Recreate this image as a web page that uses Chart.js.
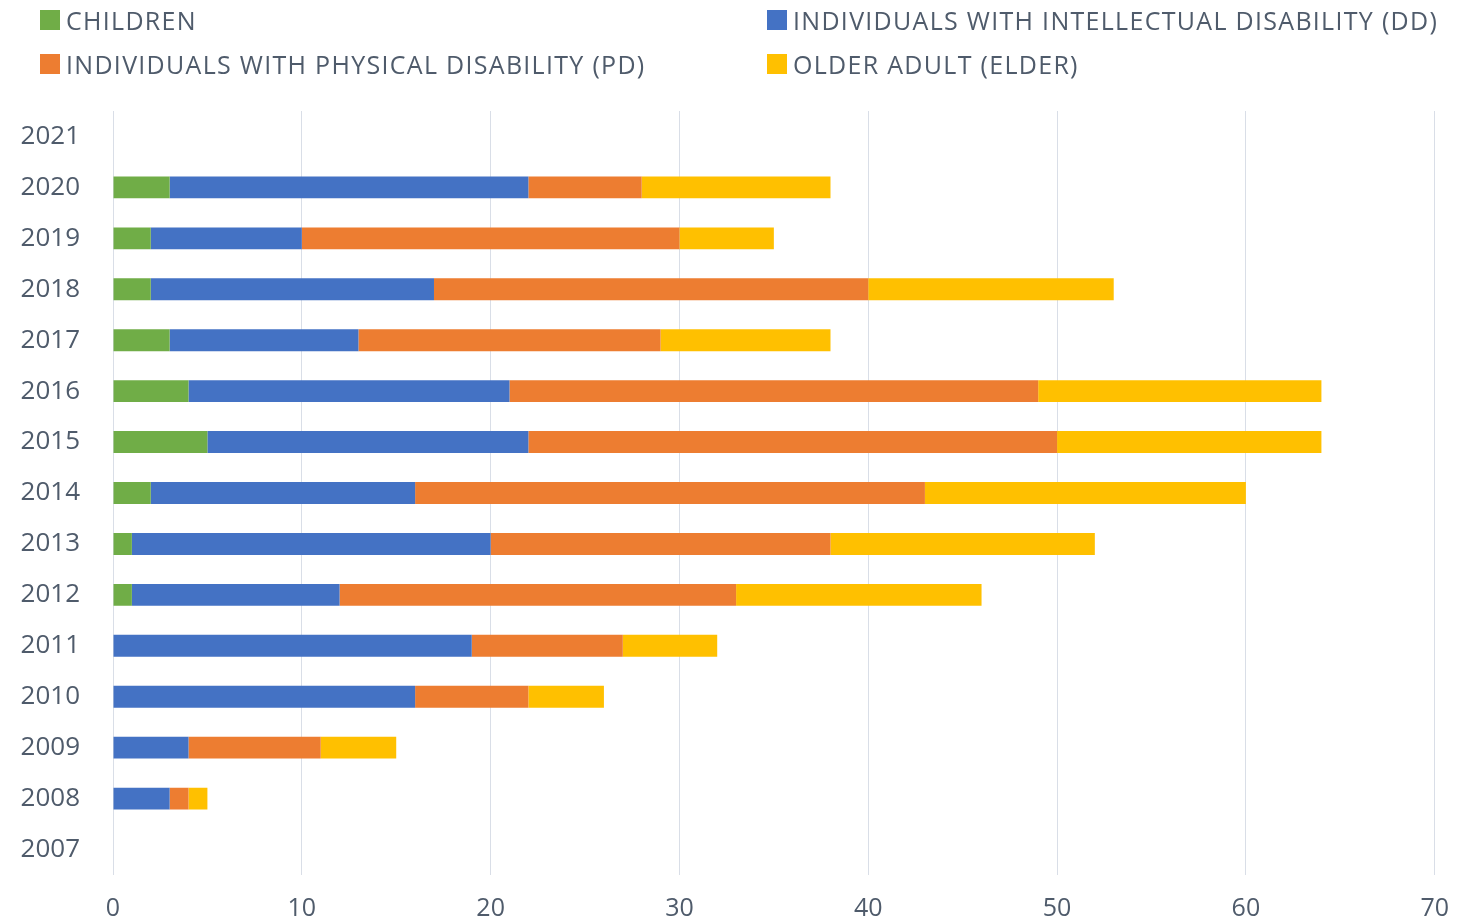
<!DOCTYPE html>
<html>
<head>
<meta charset="utf-8">
<script src="https://cdn.jsdelivr.net/npm/chart.js@4.4.1/dist/chart.umd.min.js"></script>
<style>
  html, body { margin: 0; padding: 0; background: #fff; overflow: hidden; }
  #wrap { position: relative; width: 1468px; height: 920px; }
  #chart { position: absolute; left: 0; top: 0; }
  .lg { position: absolute; font-family: "Open Sans", sans-serif; font-size: 25px; letter-spacing: 1.3px;
        color: #4F5B6B; white-space: nowrap; line-height: 26px; }
  .lg span.box { position: absolute; left: -26px; top: 3px; width: 20px; height: 20px; }
</style>
</head>
<body>
<div id="wrap">
  <canvas id="chart" width="1468" height="920"></canvas>
  <div id="legend"></div>
</div>
<script>
// categories top to bottom
const years = ['2021', '2020', '2019', '2018', '2017', '2016', '2015', '2014',
               '2013', '2012', '2011', '2010', '2009', '2008', '2007'];

const seriesNames = ['CHILDREN',
                     'INDIVIDUALS WITH INTELLECTUAL DISABILITY (DD)',
                     'INDIVIDUALS WITH PHYSICAL DISABILITY (PD)',
                     'OLDER ADULT (ELDER)'];
const seriesColors = ['#70AD47', '#4472C4', '#ED7D31', '#FFC000'];

const children = [0, 3, 2, 2, 3, 4, 5, 2, 1, 1, 0, 0, 0, 0, 0];
const dd       = [0, 19, 8, 15, 10, 17, 17, 14, 19, 11, 19, 16, 4, 3, 0];
const pd       = [0, 6, 20, 23, 16, 28, 28, 27, 18, 21, 8, 6, 7, 1, 0];
const elder    = [0, 10, 5, 13, 9, 15, 14, 17, 14, 13, 5, 4, 4, 1, 0];

const xTicks = [0, 10, 20, 30, 40, 50, 60, 70];

const textColor = '#4F5B6B';
const allSeries = [children, dd, pd, elder];

// HTML legend: two columns, row-major
const legendPos = [[66, 7], [793, 7], [66, 51], [793, 51]];
const legendEl = document.getElementById('legend');
seriesNames.forEach(function(name, i) {
    const d = document.createElement('div');
    d.className = 'lg';
    d.style.left = legendPos[i][0] + 'px';
    d.style.top = legendPos[i][1] + 'px';
    d.innerHTML = '<span class="box" style="background:' + seriesColors[i] + '"></span>' + name;
    legendEl.appendChild(d);
});

const ctx = document.getElementById('chart').getContext('2d');
new Chart(ctx, {
    type: 'bar',
    data: {
        labels: years,
        datasets: allSeries.map(function(vals, i) {
            return {
                label: seriesNames[i],
                data: vals,
                backgroundColor: seriesColors[i],
                borderWidth: 0,
                barPercentage: 0.43,
                categoryPercentage: 1.0
            };
        })
    },
    options: {
        indexAxis: 'y',
        responsive: false,
        animation: false,
        devicePixelRatio: 1,
        layout: { padding: { top: 111, right: 24, bottom: 0, left: 0 } },
        plugins: {
            legend: { display: false },
            tooltip: { enabled: false }
        },
        scales: {
            x: {
                stacked: true,
                min: 0,
                max: 70,
                afterBuildTicks: function(scale) {
                    scale.ticks = xTicks.map(v => ({ value: v }));
                },
                afterFit: function(scale) { scale.height = 45; },
                border: { display: false },
                grid: { color: '#D9DEE7', lineWidth: 1, drawTicks: false },
                ticks: {
                    padding: 19,
                    color: textColor,
                    font: { family: 'Open Sans', size: 25 }
                }
            },
            y: {
                stacked: true,
                border: { display: false },
                grid: { display: false, drawTicks: false },
                afterFit: function(scale) {
                    scale.width = 113;
                    scale.paddingTop = 0;
                    scale.paddingBottom = 0;
                },
                ticks: {
                    padding: 33,
                    color: textColor,
                    font: { family: 'Open Sans', size: 26 }
                }
            }
        }
    }
});
</script>
</body>
</html>
